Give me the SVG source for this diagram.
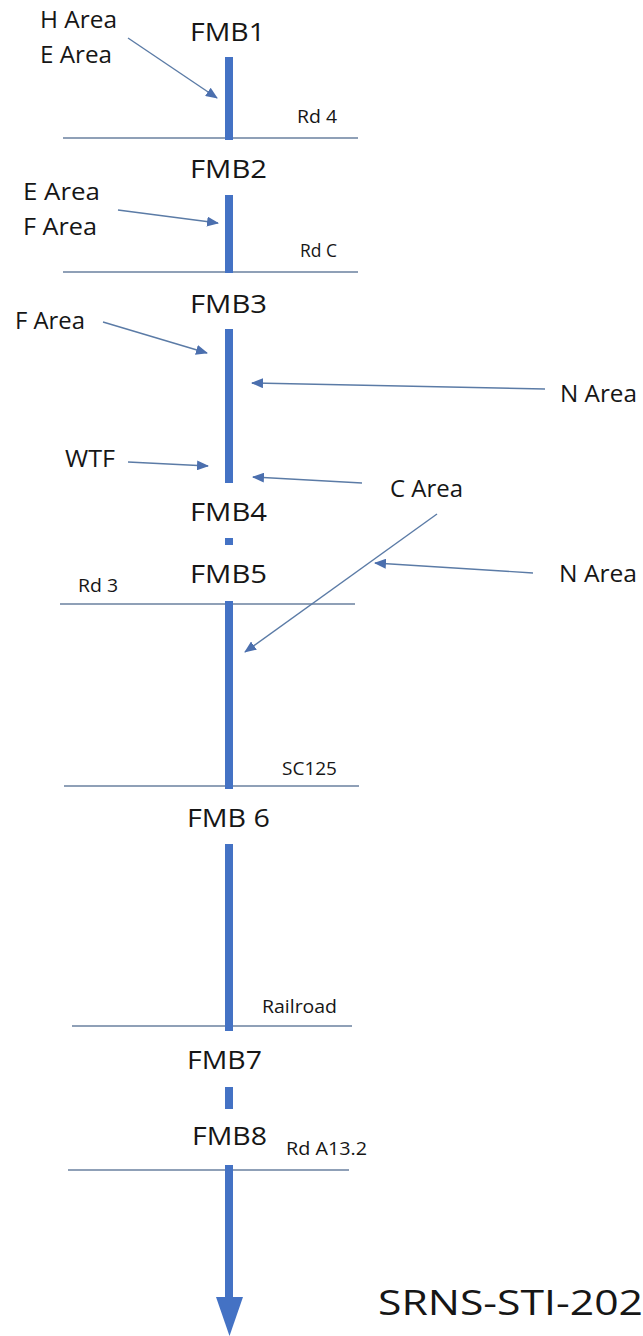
<svg xmlns="http://www.w3.org/2000/svg" width="643" height="1336" viewBox="0 0 643 1336">
<style>
text{font-family:"Open Sans","Liberation Sans",sans-serif;fill:#161616}
.fmb{font-size:25px}
.area{font-size:23px}
.rd{font-size:18px}
.big{font-size:35px}
.bar{fill:#4472C4}
.road{stroke:#6A809F;stroke-width:1.5;fill:none}
.flow{stroke:#5B7BA6;stroke-width:1.4;fill:none;marker-end:url(#ah)}
</style>
<defs>
<marker id="ah" viewBox="0 0 12 10" refX="11" refY="5" markerWidth="12" markerHeight="10" markerUnits="userSpaceOnUse" orient="auto">
<path d="M0,0 L12,5 L0,10 Z" fill="#4B6FAE"/>
</marker>
</defs>
<rect width="643" height="1336" fill="#ffffff"/>
<g id="roads">
<line class="road" x1="63" y1="138" x2="358" y2="138"/>
<line class="road" x1="63" y1="272" x2="358" y2="272"/>
<line class="road" x1="60" y1="604" x2="355" y2="604"/>
<line class="road" x1="64" y1="786" x2="359" y2="786"/>
<line class="road" x1="72" y1="1026" x2="352" y2="1026"/>
<line class="road" x1="68" y1="1170" x2="349" y2="1170"/>
</g>
<g id="road-labels">
<text class="rd" x="297" y="123" textLength="40" lengthAdjust="spacingAndGlyphs">Rd 4</text>
<text class="rd" x="300" y="257" textLength="37" lengthAdjust="spacingAndGlyphs">Rd C</text>
<text class="rd" x="78" y="592" textLength="40" lengthAdjust="spacingAndGlyphs">Rd 3</text>
<text class="rd" x="282" y="775" textLength="55" lengthAdjust="spacingAndGlyphs">SC125</text>
<text class="rd" x="262" y="1013" textLength="75" lengthAdjust="spacingAndGlyphs">Railroad</text>
<text class="rd" x="286" y="1155" textLength="81" lengthAdjust="spacingAndGlyphs">Rd A13.2</text>
</g>
<g id="FMB1">
<rect class="bar" x="225" y="57" width="8" height="83"/>
<text class="fmb" x="190" y="41" textLength="75" lengthAdjust="spacingAndGlyphs">FMB1</text>
</g>
<g id="FMB2">
<rect class="bar" x="225" y="195" width="8" height="78"/>
<text class="fmb" x="190" y="178" textLength="77" lengthAdjust="spacingAndGlyphs">FMB2</text>
</g>
<g id="FMB3">
<rect class="bar" x="225" y="329" width="8" height="154"/>
<text class="fmb" x="190" y="313" textLength="77" lengthAdjust="spacingAndGlyphs">FMB3</text>
</g>
<g id="FMB4">
<rect class="bar" x="225" y="538" width="8" height="7"/>
<text class="fmb" x="190" y="521" textLength="77" lengthAdjust="spacingAndGlyphs">FMB4</text>
</g>
<g id="FMB5">
<rect class="bar" x="225" y="601" width="8" height="188"/>
<text class="fmb" x="190" y="583" textLength="77" lengthAdjust="spacingAndGlyphs">FMB5</text>
</g>
<g id="FMB6">
<rect class="bar" x="225" y="844" width="8" height="187"/>
<text class="fmb" x="187" y="827" textLength="83" lengthAdjust="spacingAndGlyphs">FMB 6</text>
</g>
<g id="FMB7">
<rect class="bar" x="225" y="1087" width="8" height="22"/>
<text class="fmb" x="187" y="1069" textLength="75" lengthAdjust="spacingAndGlyphs">FMB7</text>
</g>
<g id="FMB8">
<rect class="bar" x="225" y="1165" width="8" height="133"/>
<path class="bar" d="M216,1297 L243,1297 L229.5,1336 Z"/>
<text class="fmb" x="192" y="1145" textLength="75" lengthAdjust="spacingAndGlyphs">FMB8</text>
</g>
<g id="sources">
<text class="area" x="40" y="28" textLength="77" lengthAdjust="spacingAndGlyphs">H Area</text>
<text class="area" x="40" y="63" textLength="72" lengthAdjust="spacingAndGlyphs">E Area</text>
<text class="area" x="23" y="200" textLength="77" lengthAdjust="spacingAndGlyphs">E Area</text>
<text class="area" x="23" y="235" textLength="74" lengthAdjust="spacingAndGlyphs">F Area</text>
<text class="area" x="15" y="329" textLength="70" lengthAdjust="spacingAndGlyphs">F Area</text>
<text class="area" x="560" y="402" textLength="77" lengthAdjust="spacingAndGlyphs">N Area</text>
<text class="area" x="65" y="467" textLength="50" lengthAdjust="spacingAndGlyphs">WTF</text>
<text class="area" x="390" y="497" textLength="73" lengthAdjust="spacingAndGlyphs">C Area</text>
<text class="area" x="559" y="582" textLength="78" lengthAdjust="spacingAndGlyphs">N Area</text>
</g>
<g id="connectors">
<line class="flow" x1="128" y1="38" x2="217" y2="98"/>
<line class="flow" x1="118" y1="210" x2="218" y2="223"/>
<line class="flow" x1="103" y1="322" x2="207" y2="353"/>
<line class="flow" x1="545" y1="389" x2="252" y2="383"/>
<line class="flow" x1="128" y1="462" x2="208" y2="466"/>
<line class="flow" x1="362" y1="483" x2="253" y2="477"/>
<line class="flow" x1="437" y1="514" x2="245" y2="652"/>
<line class="flow" x1="533" y1="573" x2="375" y2="563"/>
</g>
<text class="big" x="378" y="1315" textLength="265" lengthAdjust="spacingAndGlyphs">SRNS-STI-202</text>
</svg>
